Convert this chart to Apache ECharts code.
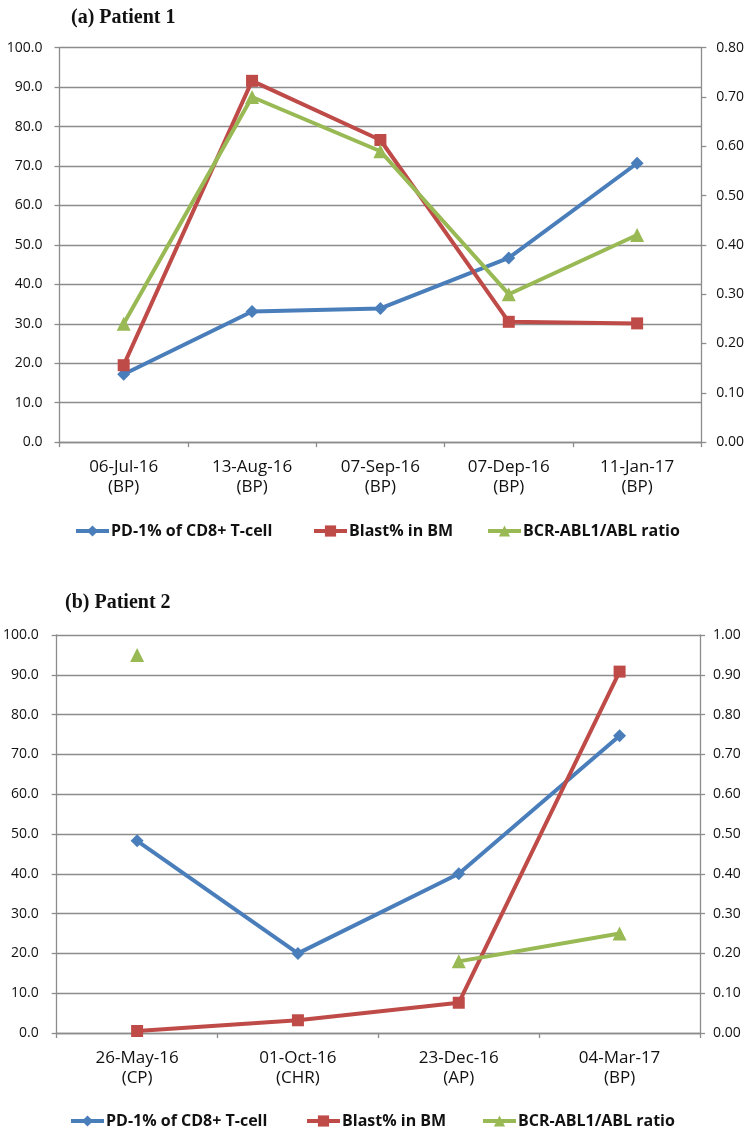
<!DOCTYPE html>
<html>
<head>
<meta charset="utf-8">
<script src="https://cdn.jsdelivr.net/npm/echarts@6/dist/echarts.min.js"></script>
<style>html,body{margin:0;padding:0;background:#fff}#c{width:747px;height:1133px}</style>
</head>
<body>
<div id="c"></div>
<script>
// Panel (a) Patient 1
var datesA = ['06-Jul-16', '13-Aug-16', '07-Sep-16', '07-Dep-16', '11-Jan-17'];
var phasesA = ['(BP)', '(BP)', '(BP)', '(BP)', '(BP)'];
var pd1A = [17.2, 33.1, 33.9, 46.7, 70.7];
var blastA = [19.5, 91.6, 76.6, 30.5, 30.1];
var ratioA = [0.24, 0.70, 0.59, 0.30, 0.42];
// Panel (b) Patient 2
var datesB = ['26-May-16', '01-Oct-16', '23-Dec-16', '04-Mar-17'];
var phasesB = ['(CP)', '(CHR)', '(AP)', '(BP)'];
var pd1B = [48.3, 20.0, 40.0, 74.7];
var blastB = [0.5, 3.2, 7.6, 90.8];
var ratioB = [0.95, null, 0.18, 0.25];

var names = ['PD-1% of CD8+ T-cell', 'Blast% in BM', 'BCR-ABL1/ABL ratio'];
var colors = ['#4A7EBB', '#BE4B48', '#98B954'];
var symbols = ['diamond', 'rect', 'triangle'];
var symSizes = [13, 12, 14];

var FONT = 'Open Sans';
var GRID = '#8c8c8c';

function cats(d, p) { return d.map(function (v, i) { return v + '\n' + p[i]; }); }

function xAxis(gi, data) {
  return {
    type: 'category', gridIndex: gi, data: data, boundaryGap: true,
    axisLine: { lineStyle: { color: GRID, width: 1.3 } },
    axisTick: { show: true, length: 5, lineStyle: { color: GRID, width: 1.3 } },
    axisLabel: { color: '#111', fontFamily: FONT, fontSize: 17, lineHeight: 20, margin: 15, interval: 0 }
  };
}
function yLeft(gi, margin) {
  return {
    type: 'value', gridIndex: gi, position: 'left', min: 0, max: 100, interval: 10,
    axisLine: { show: true, lineStyle: { color: GRID, width: 1.3 } },
    axisTick: { show: true, length: 5, lineStyle: { color: GRID, width: 1.3 } },
    splitLine: { show: true, lineStyle: { color: GRID, width: 1.3 } },
    axisLabel: { color: '#111', fontFamily: FONT, fontSize: 14, margin: margin,
      formatter: function (v) { return v.toFixed(1); } }
  };
}
function yRight(gi, max, margin) {
  return {
    type: 'value', gridIndex: gi, position: 'right', min: 0, max: max, interval: 0.1,
    axisLine: { show: true, lineStyle: { color: GRID, width: 1.3 } },
    axisTick: { show: true, length: 5, lineStyle: { color: GRID, width: 1.3 } },
    splitLine: { show: false },
    axisLabel: { color: '#111', fontFamily: FONT, fontSize: 14, margin: margin,
      formatter: function (v) { return v.toFixed(2); } }
  };
}
function series(k, gi, yi, data) {
  return {
    name: names[k], type: 'line', xAxisIndex: gi, yAxisIndex: yi, data: data,
    symbol: symbols[k], symbolSize: symSizes[k], showAllSymbol: true,
    connectNulls: false, animation: false,
    lineStyle: { color: colors[k], width: 4 },
    itemStyle: { color: colors[k] }, z: 3 + k
  };
}
function legend(name, left, top) {
  return {
    data: [name], left: left, top: top, itemWidth: 33, itemHeight: 14, itemGap: 0,
    padding: 0, selectedMode: false,
    lineStyle: { width: 4 },
    textStyle: { fontFamily: FONT, fontSize: 16, fontWeight: 'bold', color: '#111', padding: [0, 0, 0, -3] }
  };
}

var chart = echarts.init(document.getElementById('c'), null, { renderer: 'canvas' });
chart.setOption({
  backgroundColor: '#fff',
  animation: false,
  title: [
    { text: '(a) Patient 1', left: 66, top: 3,
      textStyle: { fontFamily: 'Liberation Serif', fontWeight: 'bold', fontSize: 20, color: '#111' } },
    { text: '(b) Patient 2', left: 60, top: 588,
      textStyle: { fontFamily: 'Liberation Serif', fontWeight: 'bold', fontSize: 20, color: '#111' } }
  ],
  grid: [
    { left: 59.5, right: 44, top: 47.7, height: 394.4 },
    { left: 56, right: 47, top: 635, height: 398 }
  ],
  xAxis: [xAxis(0, cats(datesA, phasesA)), xAxis(1, cats(datesB, phasesB))],
  yAxis: [yLeft(0, 17), yRight(0, 0.8, 15), yLeft(1, 18), yRight(1, 1.0, 13)],
  legend: [
    legend(names[0], 74, 523), legend(names[1], 312, 523), legend(names[2], 486, 523),
    legend(names[0], 69, 1113), legend(names[1], 305, 1113), legend(names[2], 481, 1113)
  ],
  series: [
    series(0, 0, 0, pd1A), series(1, 0, 0, blastA), series(2, 0, 1, ratioA),
    series(0, 1, 2, pd1B), series(1, 1, 2, blastB), series(2, 1, 3, ratioB)
  ]
});
</script>
</body>
</html>
